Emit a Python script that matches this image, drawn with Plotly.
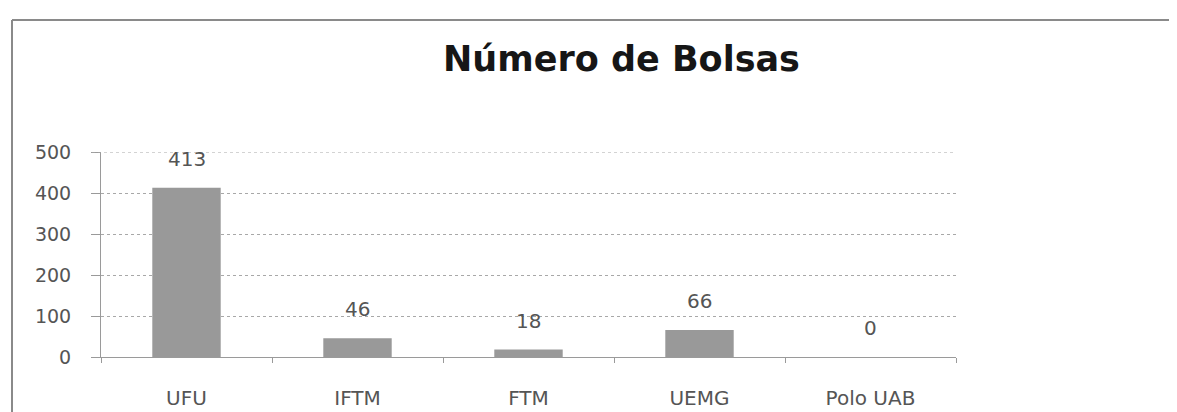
import plotly.graph_objects as go

categories = ["UFU", "IFTM", "FTM", "UEMG", "Polo UAB"]
values = [413, 46, 18, 66, 0]
y_ticks = [0, 100, 200, 300, 400, 500]
title_text = "Número de Bolsas"

FONT = "DejaVu Sans"
TXT = "#555555"
LINE = "#9a9a9a"
GRID = "#a8a8a8"

# page body has an 8px margin: figure coordinates = window coordinates - 8
OFF = 8
W, H = 1177 - OFF, 412 - OFF
L, R, T, B = 101 - OFF, 1177 - 956, 152 - OFF, 412 - 357
pw, ph = W - L - R, H - T - B

def px(x):
    return (x - OFF - L) / pw

def py(y):
    return (H - B - (y - OFF)) / ph

fig = go.Figure()
fig.add_trace(go.Bar(
    x=categories, y=values, width=0.4,
    marker=dict(color="#999999", line=dict(width=0)),
    hoverinfo="x+y",
))

for c, v in zip(categories, values):
    fig.add_annotation(x=c, y=v, text=str(v), showarrow=False,
                       yanchor="middle", yshift=29,
                       font=dict(family=FONT, size=20, color=TXT))

# top gridline at the upper edge of the range
fig.add_shape(type="line", xref="paper", yref="y", x0=px(92), x1=1, y0=y_ticks[-1], y1=y_ticks[-1],
              line=dict(color=GRID, width=1, dash="dot"), layer="above")

# chart-area frame (scanned): top and left edges
frame = dict(color="#8a8a8a", width=2)
fig.add_shape(type="line", xref="paper", yref="paper",
              x0=px(12), x1=px(1200), y0=py(20), y1=py(20), line=frame, layer="below")
fig.add_shape(type="line", xref="paper", yref="paper",
              x0=px(12), x1=px(12), y0=py(20), y1=py(440), line=frame, layer="below")

fig.update_layout(
    width=W, height=H,
    margin=dict(l=L, r=R, t=T, b=B, autoexpand=False),
    paper_bgcolor="white", plot_bgcolor="white",
    showlegend=False,
    title=dict(text=f"<b>{title_text}</b>", x=(621.5 - OFF) / W, xanchor="center",
               y=1 - (59 - OFF) / H, yanchor="middle",
               font=dict(family=FONT, size=35, color="#161616")),
    font=dict(family=FONT, color=TXT),
)
fig.update_xaxes(
    type="category", range=[-0.5, 4.5], automargin=False,
    showline=True, linecolor=LINE, linewidth=1,
    ticks="outside", tickson="boundaries", ticklen=5, tickcolor=LINE,
    ticklabelstandoff=23,
    tickfont=dict(family=FONT, size=20, color=TXT),
    showgrid=False, zeroline=False,
)
fig.update_yaxes(
    range=[0, 500], tickvals=y_ticks, automargin=False,
    showline=True, linecolor=LINE, linewidth=1,
    ticks="outside", ticklen=9, tickcolor=LINE,
    showgrid=True, gridcolor=GRID, gridwidth=1, griddash="dot",
    zeroline=False,
    ticklabelstandoff=16,
    tickfont=dict(family=FONT, size=19, color=TXT),
)

fig.write_html("out.html")
